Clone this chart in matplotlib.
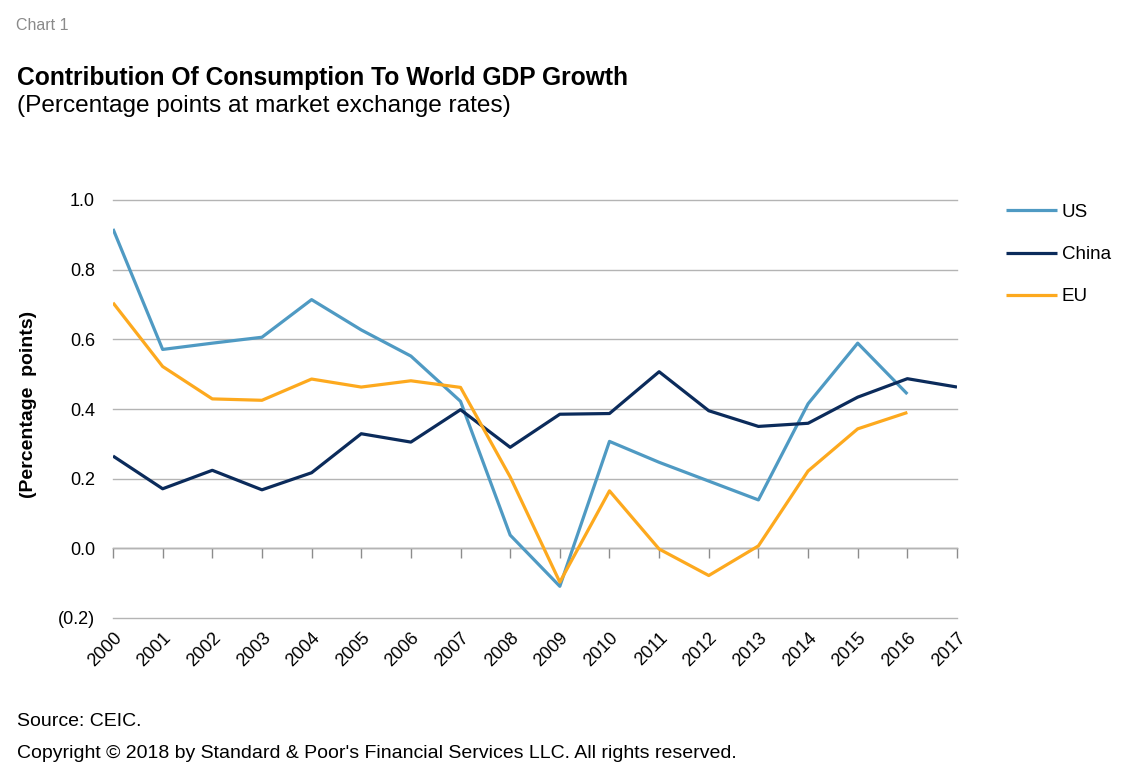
import matplotlib
matplotlib.use('Agg')
from matplotlib import pyplot as plt
import numpy as np

plt.rcParams['font.family'] = ['Liberation Sans', 'DejaVu Sans']

years = [str(y) for y in range(2000, 2018)]
us = [0.917, 0.571, 0.589, 0.606, 0.714, 0.627, 0.552, 0.422, 0.038, -0.109,
      0.307, 0.247, 0.193, 0.139, 0.415, 0.589, 0.443]
china = [0.265, 0.171, 0.224, 0.168, 0.217, 0.329, 0.305, 0.398, 0.290, 0.385,
         0.387, 0.507, 0.395, 0.350, 0.359, 0.434, 0.487, 0.463]
eu = [0.705, 0.522, 0.429, 0.425, 0.486, 0.463, 0.481, 0.462, 0.205, -0.097,
      0.165, -0.002, -0.078, 0.007, 0.222, 0.343, 0.390]
y_ticks = [-0.2, 0.0, 0.2, 0.4, 0.6, 0.8, 1.0]
y_labels = ['(0.2)', '0.0', '0.2', '0.4', '0.6', '0.8', '1.0']

W, H = 1127, 783
fig = plt.figure(figsize=(W / 100, H / 100), dpi=100)
ax = fig.add_axes([113 / W, 1 - 618 / H, (957 - 113) / W, (618 - 200) / H])

X = np.arange(len(years))
ax.plot(X[:len(us)], us, color='#4F9AC3', lw=2.3, label='US', solid_capstyle='butt')
ax.plot(X[:len(china)], china, color='#0B2B5B', lw=2.3, label='China', solid_capstyle='butt')
ax.plot(X[:len(eu)], eu, color='#FDA91E', lw=2.3, label='EU', solid_capstyle='butt')

ax.set_xlim(0, len(years) - 1)
ax.set_ylim(-0.2, 1.0)
ax.set_yticks(y_ticks)
ax.set_yticklabels(y_labels, fontsize=13)
ax.tick_params(axis='y', length=0, pad=13)
ax.grid(axis='y', color='#B4B4B4', lw=1)
for gl in ax.get_ygridlines():
    gl.set_clip_on(False)
ax.set_axisbelow(True)
for s in ax.spines.values():
    s.set_visible(False)

# year labels at the bottom, no tick marks
ax.set_xticks(X)
ax.set_xticklabels(years, rotation=45, ha='right', rotation_mode='anchor', fontsize=13)
ax.tick_params(axis='x', length=0, pad=8)

# zero line with tick marks
zero = ax.secondary_xaxis(0.2 / 1.2)
zero.set_xticks(X)
zero.set_xticklabels([])
zero.tick_params(axis='x', length=7, width=1, color='#8C8C8C', direction='out')
zero.spines['bottom'].set_color('#8C8C8C')
zero.spines['bottom'].set_linewidth(1)

ax.set_ylabel('(Percentage  points)', fontsize=14, fontweight='bold')
ax.yaxis.set_label_coords(-76 / (957 - 113), 0.51)

fig.legend(loc='upper left', bbox_to_anchor=(989 / W, 1 - 187 / H), frameon=False,
           fontsize=13.5, handlelength=2.7, labelspacing=1.33, handletextpad=0.27)

fig.text(16 / W, 1 - 26 / H, 'Chart 1', fontsize=11.5, color='#8A8A8A', va='center')
fig.text(17 / W, 1 - 78 / H, 'Contribution Of Consumption To World GDP Growth',
         fontsize=17.7, fontweight='bold', va='center')
fig.text(17 / W, 1 - 106 / H, '(Percentage points at market exchange rates)',
         fontsize=17.6, va='center')
fig.text(17 / W, 1 - 722 / H, 'Source: CEIC.', fontsize=14, va='center')
fig.text(17 / W, 1 - 753 / H,
         "Copyright \u00a9 2018 by Standard & Poor's Financial Services LLC. All rights reserved.",
         fontsize=14, va='center')

fig.savefig('out.png', dpi=100)
